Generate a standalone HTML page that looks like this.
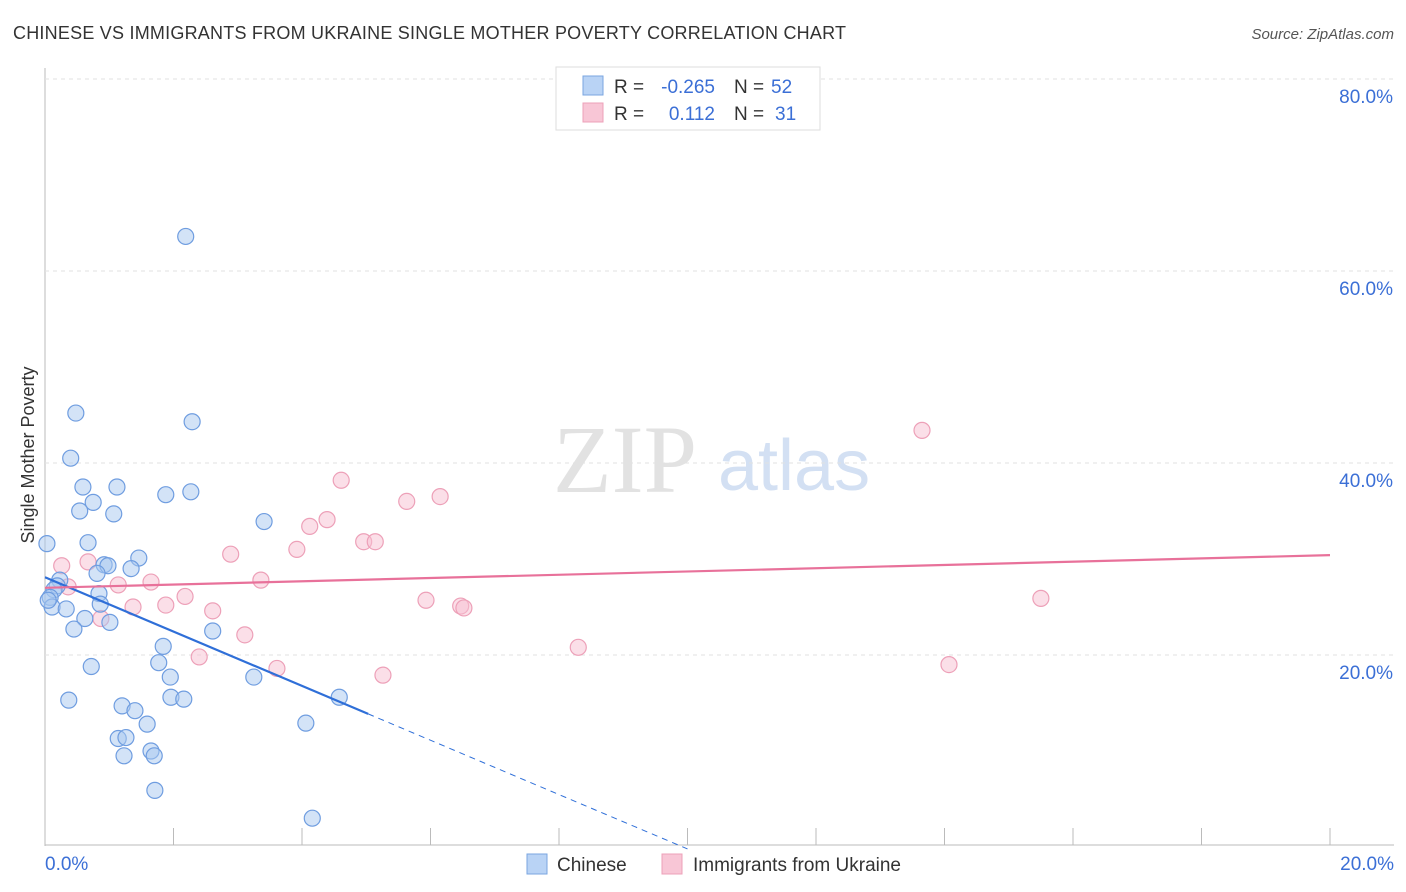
<!DOCTYPE html>
<html><head><meta charset="utf-8"><style>
body{margin:0;background:#fff;font-family:"Liberation Sans",sans-serif;}
#wrap{position:relative;width:1406px;height:892px;overflow:hidden;}
</style></head><body>
<div id="wrap">
<svg id="svg" width="1406" height="892" xmlns="http://www.w3.org/2000/svg">
<text x="13" y="39" font-size="18" fill="#333" textLength="833">CHINESE VS IMMIGRANTS FROM UKRAINE SINGLE MOTHER POVERTY CORRELATION CHART</text>
<text x="1394" y="39" font-size="15" fill="#555" font-style="italic" text-anchor="end">Source: ZipAtlas.com</text>
<text transform="translate(34,455) rotate(-90)" font-size="18" fill="#333" text-anchor="middle">Single Mother Poverty</text>
<g><text x="553" y="492" font-size="96" font-family="Liberation Serif" fill="#e2e2e2">ZIP</text><text x="718" y="490" font-size="72" fill="#d3e0f3">atlas</text></g>
<g id="grid"></g><g id="marks"></g>
<g>
<rect x="556" y="67" width="264" height="63" fill="#fff" stroke="#ddd"/>
<rect x="583" y="76" width="20" height="19" fill="#b9d3f5" stroke="#7aa6e0"/>
<rect x="583" y="103" width="20" height="19" fill="#f8c6d6" stroke="#eda0b8"/>
<g font-size="19">
<text x="614" y="93" fill="#333">R =</text><text x="715" y="93" fill="#3b6fd6" text-anchor="end">-0.265</text>
<text x="734" y="93" fill="#333">N =</text><text x="771" y="93" fill="#3b6fd6">52</text>
<text x="614" y="120" fill="#333">R =</text><text x="715" y="120" fill="#3b6fd6" text-anchor="end">0.112</text>
<text x="734" y="120" fill="#333">N =</text><text x="775" y="120" fill="#3b6fd6">31</text>
</g>
</g>
<g>
<rect x="527" y="854" width="20" height="20" fill="#b9d3f5" stroke="#7aa6e0"/>
<text x="557" y="871" font-size="19" fill="#333">Chinese</text>
<rect x="662" y="854" width="20" height="20" fill="#f8c6d6" stroke="#eda0b8"/>
<text x="693" y="871" font-size="19" fill="#333">Immigrants from Ukraine</text>
</g>
</svg></div>
<script>
const xTicks=[0,2,4,6,8,10,12,14,16,18,20];
const yTicks=[20,40,60,80];
const blueX=[2.19,0.48,2.29,0.40,0.59,1.12,1.88,2.27,0.75,0.54,1.07,3.41,0.03,0.67,1.46,0.92,0.98,1.34,0.81,0.23,0.19,0.14,0.08,0.84,0.11,0.33,0.86,0.62,1.01,0.45,2.61,1.84,1.77,0.72,1.95,3.25,1.96,2.16,0.37,4.58,1.20,1.40,1.59,4.06,1.14,1.26,1.65,1.70,1.23,1.71,4.16,0.05];
const blueY=[63.6,45.2,44.3,40.5,37.5,37.5,36.7,37.0,35.9,35.0,34.7,33.9,31.6,31.7,30.1,29.4,29.3,29.0,28.5,27.8,27.2,26.8,26.0,26.4,25.0,24.8,25.3,23.8,23.4,22.7,22.5,20.9,19.2,18.8,17.7,17.7,15.6,15.4,15.3,15.6,14.7,14.2,12.8,12.9,11.3,11.4,10.0,9.5,9.5,5.9,3.0,25.7];
const pinkX=[13.65,4.61,6.15,5.63,4.39,4.12,3.92,4.96,5.14,2.89,0.67,0.26,3.36,1.65,1.14,0.36,2.18,1.88,1.37,2.61,6.47,6.52,5.93,0.87,3.11,15.50,8.30,2.40,3.61,14.07,5.26];
const pinkY=[43.4,38.2,36.5,36.0,34.1,33.4,31.0,31.8,31.8,30.5,29.7,29.3,27.8,27.6,27.3,27.1,26.1,25.2,25.0,24.6,25.1,24.9,25.7,23.8,22.1,25.9,20.8,19.8,18.6,19.0,17.9];
const blueTrend=[28.1,-0.2];const blueSolidEnd=5.03;
const pinkTrend=[27.0,30.4];
const X=v=>45+v*64.25, Y=v=>847-v*9.6;
const NS="http://www.w3.org/2000/svg";
function mk(t,a,p){const e=document.createElementNS(NS,t);for(const k in a)e.setAttribute(k,a[k]);p.appendChild(e);return e;}
const g=document.getElementById('grid'),m=document.getElementById('marks');
let ax=mk('line',{x1:45,y1:68,x2:45,y2:846,stroke:'#bbb'},g);


let bx=mk('line',{x1:45,y1:845,x2:1394,y2:845,stroke:'#bbb'},g);


yTicks.forEach(v=>{let l=mk('line',{x1:45,x2:1394,y1:Y(v),y2:Y(v),stroke:'#e2e2e2','stroke-dasharray':'4,4'},g);


let t=mk('text',{x:1393,y:Y(v)+24,'font-size':19,fill:'#3b6fd6','text-anchor':'end'},g);t.textContent=v.toFixed(1)+'%';

});
xTicks.forEach(v=>{let l=mk('line',{x1:X(v),x2:X(v),y1:828,y2:845,stroke:'#bbb'},g);

});
[[0,'start',45],[20,'end',1394]].forEach(([v,a,x])=>{let t=mk('text',{x:x,y:870,'font-size':19,fill:'#3b6fd6','text-anchor':a},g);t.textContent=v.toFixed(1)+'%';

});
function pts(xs,ys,f,s,n){xs.forEach((x,i)=>{let c=mk('circle',{cx:X(x),cy:Y(ys[i]),r:8,fill:f,'fill-opacity':0.5,stroke:s,'stroke-width':1.2},m);

});}
pts(pinkX,pinkY,'#f8c0d2','#eda0b8','point-ukraine');
pts(blueX,blueY,'#a8c8f0','#6f9de0','point-chinese');
const bAt=x=>blueTrend[0]+(blueTrend[1]-blueTrend[0])*x/10;
let t1=mk('line',{x1:X(0),y1:Y(bAt(0)),x2:X(blueSolidEnd),y2:Y(bAt(blueSolidEnd)),stroke:'#2f6fd8','stroke-width':2.2},m);


let t2=mk('line',{x1:X(blueSolidEnd),y1:Y(bAt(blueSolidEnd)),x2:X(10),y2:Y(bAt(10)),stroke:'#2f6fd8','stroke-width':1,'stroke-dasharray':'6,5'},m);


let t3=mk('line',{x1:X(0),y1:Y(pinkTrend[0]),x2:X(20),y2:Y(pinkTrend[1]),stroke:'#e8719a','stroke-width':2.2},m);


</script>
</body></html>
